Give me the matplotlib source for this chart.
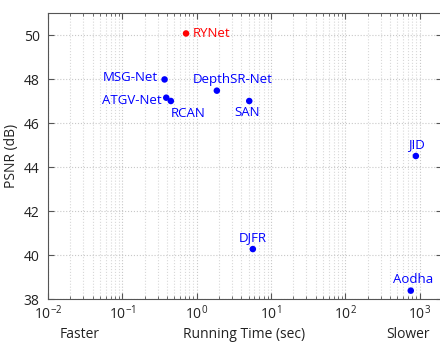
import matplotlib
matplotlib.use('Agg')
import matplotlib.pyplot as plt
import numpy as np

plt.rcParams['font.family'] = ['Open Sans', 'DejaVu Sans']

# datos
metodos = ['RYNet', 'MSG-Net', 'ATGV-Net', 'RCAN', 'DepthSR-Net', 'SAN', 'JID', 'DJFR', 'Aodha']
tiempos = [0.72, 0.37, 0.39, 0.45, 1.87, 5.1, 890, 5.7, 760]
psnr = [50.07, 47.98, 47.15, 47.0, 47.47, 47.0, 44.5, 40.27, 38.38]
colores = ['red'] + ['blue'] * 8
# desplazamiento de etiquetas (pixeles) y alineacion
offsets = [(7, 0), (-7, 2), (-5, -3), (17, -12), (16, 11), (-2, -11), (1, 11), (0, 11), (2, 11)]
aligns = ['left', 'right', 'right', 'center', 'center', 'center', 'center', 'center', 'center']

fig = plt.figure(figsize=(4.4, 3.44), dpi=100)
W, H = 440, 344
ax = fig.add_axes([48 / W, 1 - 299 / H, 394 / W, 286 / H])

ax.scatter(tiempos, psnr, c=colores, s=22, zorder=3, linewidths=0)
for nombre, x, y, c, off, ha in zip(metodos, tiempos, psnr, colores, offsets, aligns):
    ax.annotate(nombre, (x, y), xytext=off, textcoords='offset pixels',
                ha=ha, va='center', color=c, fontsize=9.5)

ax.set_xscale('log')
ax.set_xlim(1e-2, 2e3)
ax.set_ylim(38, 51)
ax.set_yticks(np.arange(38, 51, 2))
ax.set_xticks([1e-2, 1e-1, 1e0, 1e1, 1e2, 1e3])

ax.grid(True, which='major', linestyle=':', color='#c8c8c8', linewidth=0.8)
ax.grid(True, which='minor', axis='x', linestyle=':', color='#d8d8d8', linewidth=0.8)
ax.tick_params(which='both', direction='in', top=True, right=True, colors='#555555',
               labelcolor='#222222', labelsize=10)
ax.tick_params(which='major', length=4)
ax.tick_params(which='minor', length=2.5)
ax.tick_params(axis='y', pad=6)
ax.tick_params(axis='x', pad=4)
for s in ax.spines.values():
    s.set_color('#555555')
    s.set_linewidth(0.8)

ax.set_ylabel('PSNR (dB)', fontsize=10, color='#222222', labelpad=3)
fig.text(80 / W, 1 - 334 / H, 'Faster', ha='center', va='center', fontsize=10, color='#222222')
fig.text(244 / W, 1 - 334 / H, 'Running Time (sec)', ha='center', va='center', fontsize=10, color='#222222')
fig.text(408 / W, 1 - 334 / H, 'Slower', ha='center', va='center', fontsize=10, color='#222222')

fig.savefig('out.png', dpi=100)
